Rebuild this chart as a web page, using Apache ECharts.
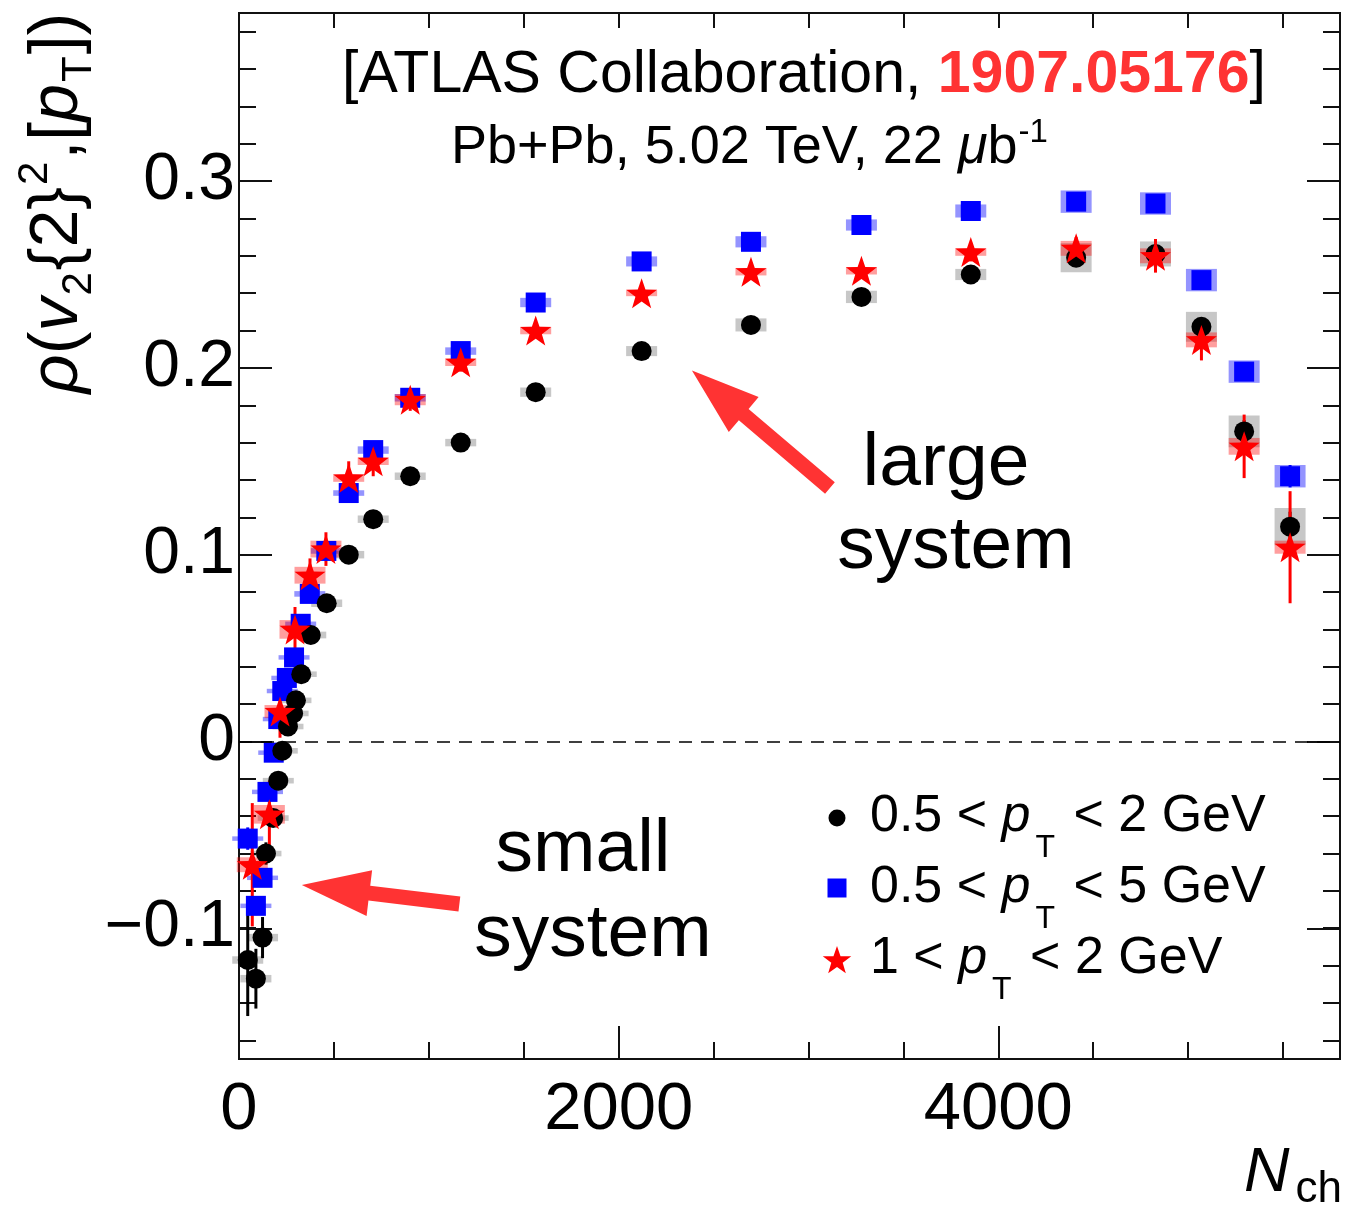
<!DOCTYPE html>
<html>
<head>
<meta charset="utf-8">
<title>rho(v2{2}^2,[pT]) vs Nch</title>
<script src="https://cdn.jsdelivr.net/npm/echarts@6.0.0/dist/echarts.min.js"></script>
<style>
html,body{margin:0;padding:0;background:#fff;}
#chart{width:1345px;height:1216px;}
</style>
</head>
<body>
<div id="chart"></div>
<script>
// ---- Pb+Pb 5.02 TeV: correlation rho(v2{2}^2,[pT]) versus N_ch ----

// 0.5 < pT < 2 GeV (black circles)
const nchA  = [46, 89, 124, 142, 180, 207, 228, 258, 285, 300, 328, 378, 462, 578, 707, 902, 1168, 1563, 2121, 2697, 3279, 3855, 4410, 4828, 5070, 5295, 5537];
const rhoA  = [-0.117, -0.127, -0.105, -0.060, -0.041, -0.021, -0.005, 0.008, 0.015, 0.022, 0.036, 0.057, 0.074, 0.100, 0.119, 0.142, 0.160, 0.187, 0.209, 0.223, 0.238, 0.250, 0.259, 0.261, 0.222, 0.166, 0.115];
const statA = [0.030, 0.016, 0.011, 0.006, 0.004, 0.003, 0.002, 0.002, 0.002, 0.002, 0.002, 0.002, 0.001, 0.001, 0.001, 0.001, 0.001, 0.001, 0.001, 0.001, 0.001, 0.002, 0.002, 0.003, 0.004, 0.006, 0.008];
const sysA  = [0.002, 0.002, 0.002, 0.0015, 0.0015, 0.0015, 0.0015, 0.0015, 0.0015, 0.0015, 0.0015, 0.0018, 0.002, 0.002, 0.002, 0.002, 0.002, 0.0025, 0.0027, 0.0035, 0.0033, 0.003, 0.0078, 0.0067, 0.008, 0.0085, 0.010];

// 0.5 < pT < 5 GeV (blue squares)
const nchB  = [46, 89, 124, 150, 183, 207, 228, 252, 290, 325, 373, 460, 578, 707, 902, 1168, 1563, 2121, 2697, 3279, 3855, 4410, 4828, 5070, 5295, 5537];
const rhoB  = [-0.052, -0.088, -0.073, -0.027, -0.006, 0.012, 0.027, 0.034, 0.045, 0.063, 0.079, 0.102, 0.133, 0.156, 0.184, 0.209, 0.235, 0.257, 0.2675, 0.2765, 0.284, 0.289, 0.288, 0.247, 0.198, 0.142];
const statB = [0.006, 0.005, 0.004, 0.003, 0.003, 0.002, 0.002, 0.002, 0.002, 0.002, 0.002, 0.002, 0.001, 0.001, 0.001, 0.001, 0.001, 0.001, 0.001, 0.001, 0.001, 0.002, 0.002, 0.003, 0.004, 0.006];
const sysB  = [0.0012, 0.0012, 0.0012, 0.0012, 0.0012, 0.0012, 0.0012, 0.0012, 0.0012, 0.0012, 0.0015, 0.0015, 0.0015, 0.002, 0.002, 0.002, 0.0025, 0.0027, 0.003, 0.003, 0.0035, 0.006, 0.006, 0.006, 0.006, 0.006];

// 1 < pT < 2 GeV (red stars)
const nchC  = [70, 160, 216, 295, 374, 458, 578, 707, 902, 1168, 1563, 2121, 2697, 3279, 3855, 4410, 4828, 5070, 5295, 5537];
const rhoC  = [-0.066, -0.039, 0.016, 0.060, 0.089, 0.103, 0.141, 0.150, 0.183, 0.203, 0.220, 0.240, 0.2515, 0.252, 0.262, 0.264, 0.260, 0.215, 0.158, 0.104];
const statC = [0.033, 0.018, 0.014, 0.012, 0.009, 0.009, 0.009, 0.008, 0.006, 0.005, 0.004, 0.004, 0.004, 0.004, 0.005, 0.006, 0.009, 0.011, 0.017, 0.030];
const sysC  = [0.004, 0.005, 0.0035, 0.005, 0.0045, 0.0045, 0.002, 0.002, 0.003, 0.002, 0.002, 0.0016, 0.002, 0.002, 0.002, 0.004, 0.004, 0.004, 0.0045, 0.0035];

// axis tick labels
const xTickLabels = [0, 2000, 4000];
const yTickLabels = [-0.1, 0, 0.1, 0.2, 0.3];

// ---- layout ----
const FONT = 'Liberation Sans';
const PLOT = { left: 239, top: 13, width: 1101, height: 1046 };
const X_MIN = 0, X_MAX = 5800, Y_MIN = -0.17, Y_MAX = 0.39;
const KY = PLOT.height / (Y_MAX - Y_MIN);

// extra grids share the plot's pixel scale but start on round values, so ticks land on multiples
function tickGrid(lo, hi) {
  return { left: PLOT.left, width: PLOT.width, top: PLOT.top + (Y_MAX - hi) * KY, height: (hi - lo) * KY, show: false };
}

const TICK = { color: '#111', width: 2 };
const MAJOR = 33, MINOR = 17;
const NO_LINE = { show: false, onZero: false };

// 5-point star used as marker
function starPts(cx, cy, R, r) {
  const p = [];
  for (let i = 0; i < 10; i++) {
    const a = -Math.PI / 2 + i * Math.PI / 5, rad = i % 2 ? r : R;
    p.push([cx + rad * Math.cos(a), cy + rad * Math.sin(a)]);
  }
  return p;
}
const STAR_PATH = 'path://M' + starPts(50, 50, 50, 20).map(q => q[0].toFixed(2) + ',' + q[1].toFixed(2)).join('L') + 'Z';

function zip3(x, y, e) { return x.map((v, i) => [v, y[i], e[i]]); }

function boxItem(fill) {
  return function (params, api) {
    const x = api.value(0), y = api.value(1), s = api.value(2);
    const a = api.coord([x, y + s]), b = api.coord([x, y - s]);
    const hw = 15.5;
    return { type: 'rect', shape: { x: a[0] - hw, y: a[1], width: 2 * hw, height: Math.max(b[1] - a[1], 1) }, style: { fill: fill } };
  };
}
function barItem(stroke) {
  return function (params, api) {
    const x = api.value(0), y = api.value(1), e = api.value(2);
    const a = api.coord([x, y + e]), b = api.coord([x, y - e]);
    return { type: 'line', shape: { x1: a[0], y1: a[1], x2: b[0], y2: b[1] }, style: { stroke: stroke, lineWidth: 3 } };
  };
}

function setOf(name, nch, rho, stat, sys, color, boxFill, symbol, size) {
  return [
    { type: 'custom', name: name + '-sys', renderItem: boxItem(boxFill), data: zip3(nch, rho, sys), silent: true, animation: false },
    { type: 'custom', name: name + '-stat', renderItem: barItem(color), data: zip3(nch, rho, stat), silent: true, animation: false },
    { type: 'scatter', name: name, data: nch.map((v, i) => [v, rho[i]]), symbol: symbol, symbolSize: size,
      itemStyle: { color: color, opacity: 1 }, silent: true, animation: false }
  ];
}

const series = [].concat(
  setOf('B', nchB, rhoB, statB, sysB, '#0000ff', 'rgba(0,0,255,0.42)', 'rect', 20),
  setOf('A', nchA, rhoA, statA, sysA, '#000000', 'rgba(0,0,0,0.22)', 'circle', 20),
  setOf('C', nchC, rhoC, statC, sysC, '#ff0000', 'rgba(255,0,0,0.38)', STAR_PATH, [31, 30])
);
// dashed zero line
series.push({
  type: 'line', data: [], silent: true, animation: false,
  markLine: { silent: true, symbol: 'none', label: { show: false },
    lineStyle: { color: '#000', width: 1.6, type: [13, 9] }, data: [{ yAxis: 0 }] }
});

const hiddenX = (g) => ({ gridIndex: g, type: 'value', min: X_MIN, max: X_MAX, show: false, axisLine: NO_LINE });

const option = {
  backgroundColor: '#fff',
  animation: false,
  grid: [
    { left: PLOT.left, top: PLOT.top, width: PLOT.width, height: PLOT.height, show: true, borderColor: '#111', borderWidth: 2, backgroundColor: 'transparent' },
    tickGrid(-0.1, 0.3),
    tickGrid(-0.16, 0.38)
  ],
  xAxis: [
    { gridIndex: 0, type: 'value', min: X_MIN, max: X_MAX, interval: 2000, position: 'bottom',
      axisLine: NO_LINE, splitLine: { show: false },
      axisTick: { inside: true, length: MAJOR, lineStyle: TICK },
      axisLabel: { fontFamily: FONT, fontSize: 67, color: '#000', margin: 18, showMaxLabel: false,
        formatter: v => (xTickLabels.indexOf(v) >= 0 ? String(v) : '') } },
    { gridIndex: 0, type: 'value', min: X_MIN, max: X_MAX, interval: 500, position: 'bottom',
      axisLine: NO_LINE, splitLine: { show: false }, axisLabel: { show: false },
      axisTick: { inside: true, length: MINOR, lineStyle: TICK } },
    { gridIndex: 0, type: 'value', min: X_MIN, max: X_MAX, interval: 500, position: 'top',
      axisLine: NO_LINE, splitLine: { show: false }, axisLabel: { show: false },
      axisTick: { inside: true, length: 15, lineStyle: TICK } },
    hiddenX(1), hiddenX(2)
  ],
  yAxis: [
    { gridIndex: 0, type: 'value', min: Y_MIN, max: Y_MAX, axisLine: NO_LINE, axisTick: { show: false },
      axisLabel: { show: false }, splitLine: { show: false } },
    { gridIndex: 1, type: 'value', min: -0.1, max: 0.3, interval: 0.1, position: 'left',
      axisLine: NO_LINE, splitLine: { show: false },
      axisTick: { inside: true, length: MAJOR, lineStyle: TICK },
      axisLabel: { fontFamily: FONT, fontSize: 66, color: '#000', margin: 4,
        formatter: v => {
          const t = yTickLabels.find(q => Math.abs(q - v) < 1e-6);
          if (t === undefined) return '';
          return t === 0 ? '0' : (t < 0 ? '\u2212' + Math.abs(t).toFixed(1) : t.toFixed(1));
        } } },
    { gridIndex: 1, type: 'value', min: -0.1, max: 0.3, interval: 0.1, position: 'right',
      axisLine: NO_LINE, splitLine: { show: false }, axisLabel: { show: false },
      axisTick: { inside: true, length: MAJOR, lineStyle: TICK } },
    { gridIndex: 2, type: 'value', min: -0.16, max: 0.38, interval: 0.02, position: 'left',
      axisLine: NO_LINE, splitLine: { show: false }, axisLabel: { show: false },
      axisTick: { inside: true, length: MINOR, lineStyle: TICK } },
    { gridIndex: 2, type: 'value', min: -0.16, max: 0.38, interval: 0.02, position: 'right',
      axisLine: NO_LINE, splitLine: { show: false }, axisLabel: { show: false },
      axisTick: { inside: true, length: MINOR, lineStyle: TICK } }
  ],
  series: series.map(s => Object.assign({ xAxisIndex: 0, yAxisIndex: 0 }, s))
};

const chart = echarts.init(document.getElementById('chart'), null, { renderer: 'canvas' });
chart.setOption(option);

// ---- annotations ----
const RED = '#ff3333';
function toPx(p) { return chart.convertToPixel({ xAxisIndex: 0, yAxisIndex: 0 }, p); }
function arrowPoly(tipD, tailD) {
  const tip = toPx(tipD), tail = toPx(tailD);
  const dx = tail[0] - tip[0], dy = tail[1] - tip[1], L = Math.hypot(dx, dy);
  const ux = dx / L, uy = dy / L, nx = -uy, ny = ux;
  const HL = 68, HW = 23, SW = 7.5;
  const bx = tip[0] + ux * HL, by = tip[1] + uy * HL;
  return [tip, [bx + nx * HW, by + ny * HW], [bx + nx * SW, by + ny * SW], [tail[0] + nx * SW, tail[1] + ny * SW],
          [tail[0] - nx * SW, tail[1] - ny * SW], [bx - nx * SW, by - ny * SW], [bx - nx * HW, by - ny * HW]];
}

const base = { fontFamily: FONT, fill: '#000' };
function txt(x, y, text, size, align, rich, extra) {
  return Object.assign({ type: 'text', x: x, y: y, silent: true, z: 50,
    style: Object.assign({}, base, { text: text, fontSize: size, align: align, verticalAlign: 'middle', rich: rich || {} }) }, extra || {});
}

const legendRich = {
  n: { fontFamily: FONT, fontSize: 52, fill: '#000', verticalAlign: 'middle' },
  i: { fontFamily: FONT, fontSize: 52, fontStyle: 'italic', fill: '#000', verticalAlign: 'middle' },
  s: { fontFamily: FONT, fontSize: 32, fill: '#000', verticalAlign: 'middle', padding: [63, 4, 0, 5] }
};
const legendRows = [
  '{n|0.5 < }{i|p}{s|T}{n| < 2 GeV}',
  '{n|0.5 < }{i|p}{s|T}{n| < 5 GeV}',
  '{n|1 < }{i|p}{s|T}{n| < 2 GeV}'
];
const legendY = [817, 888, 959];

const graphics = [
  // header
  txt(342, 76, '{n|[ATLAS Collaboration, }{r|1907.05176}{n|]}', 59, 'left', {
    n: { fontFamily: FONT, fontSize: 59, fill: '#000', verticalAlign: 'middle' },
    r: { fontFamily: FONT, fontSize: 59, fontWeight: 'bold', fill: RED, verticalAlign: 'middle' }
  }),
  txt(451, 148, '{n|Pb+Pb, 5.02 TeV, 22 }{i|\u03bc}{n|b}{u|-1}', 54, 'left', {
    n: { fontFamily: FONT, fontSize: 54, fill: '#000', verticalAlign: 'middle' },
    i: { fontFamily: FONT, fontSize: 54, fontStyle: 'italic', fill: '#000', verticalAlign: 'middle' },
    u: { fontFamily: FONT, fontSize: 33, fill: '#000', verticalAlign: 'middle', padding: [0, 0, 30, 1] }
  }),
  // y axis title
  txt(58, 203, '{i|\u03c1}{n|(}{i|v}{d|2}{n|{2}}{u|2}{n|,[}{i|p}{d|T}{n|])}', 68, 'center', {
    n: { fontFamily: FONT, fontSize: 68, fill: '#000', verticalAlign: 'middle' },
    i: { fontFamily: FONT, fontSize: 68, fontStyle: 'italic', fill: '#000', verticalAlign: 'middle' },
    d: { fontFamily: FONT, fontSize: 42, fill: '#000', verticalAlign: 'middle', padding: [42, 2, 0, 2] },
    u: { fontFamily: FONT, fontSize: 42, fill: '#000', verticalAlign: 'middle', padding: [0, 2, 46, 2] }
  }, { rotation: Math.PI / 2 }),
  // x axis title
  txt(1342, 1173, '{i|N}{d|ch}', 63, 'right', {
    i: { fontFamily: FONT, fontSize: 63, fontStyle: 'italic', fill: '#000', verticalAlign: 'middle' },
    d: { fontFamily: FONT, fontSize: 44, fill: '#000', verticalAlign: 'middle', padding: [34, 0, 0, 6] }
  }),
  // system labels
  txt(946, 464, 'large', 75, 'center'),
  txt(956, 547, 'system', 75, 'center'),
  txt(583, 850, 'small', 75, 'center'),
  txt(593, 935, 'system', 75, 'center'),
  // arrows
  { type: 'polygon', silent: true, z: 40, shape: { points: arrowPoly([2386, 0.1986], [3113, 0.1357]) }, style: { fill: RED } },
  { type: 'polygon', silent: true, z: 40, shape: { points: arrowPoly([331, -0.0768], [1161, -0.0870]) }, style: { fill: RED } },
  // legend markers
  { type: 'circle', silent: true, z: 50, shape: { cx: 837, cy: 818, r: 8.5 }, style: { fill: '#000' } },
  { type: 'rect', silent: true, z: 50, shape: { x: 827.5, y: 878.5, width: 19, height: 19 }, style: { fill: '#0000ff' } },
  { type: 'polygon', silent: true, z: 50, shape: { points: starPts(837, 961, 15, 6) }, style: { fill: '#ff0000' } }
];
legendRows.forEach((t, k) => graphics.push(txt(870, legendY[k], t, 52, 'left', legendRich)));

chart.setOption({ graphic: graphics });
</script>
</body>
</html>
